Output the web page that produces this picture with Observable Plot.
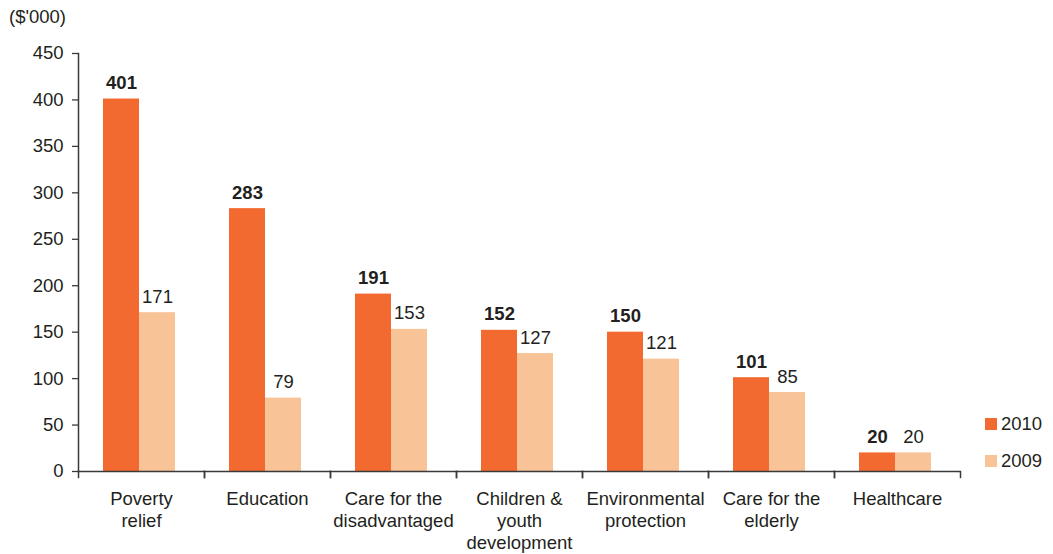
<!DOCTYPE html>
<html>
<head>
<meta charset="utf-8">
<script src="https://cdn.jsdelivr.net/npm/d3@7"></script>
<script src="https://cdn.jsdelivr.net/npm/@observablehq/plot@0.6"></script>
<style>
  html, body { margin: 0; padding: 0; background: #fff; }
  #wrap { position: relative; width: 1053px; height: 554px; font-family: "Liberation Sans", Arial, sans-serif; color: #231F20; }
  #unit { position: absolute; left: 9px; top: 8px; font-size: 18.5px; line-height: 1; }
  #legend { position: absolute; left: 985px; top: 414px; font-size: 18.5px; }
  .item { display: flex; align-items: center; height: 19px; margin-bottom: 18.5px; }
  .swatch { width: 12px; height: 12px; margin-right: 4px; }
</style>
</head>
<body>
<div id="wrap">
  <div id="unit">($'000)</div>
  <div id="legend"></div>
</div>
<script>
// Donations by cause, 2010 vs 2009 ($'000)
const categories = [
  "Poverty relief",
  "Education",
  "Care for the disadvantaged",
  "Children & youth development",
  "Environmental protection",
  "Care for the elderly",
  "Healthcare"
];
const categoryLabels = [
  "Poverty\nrelief",
  "Education",
  "Care for the\ndisadvantaged",
  "Children &\nyouth\ndevelopment",
  "Environmental\nprotection",
  "Care for the\nelderly",
  "Healthcare"
];
const years = ["2010", "2009"];
const values2010 = [401, 283, 191, 152, 150, 101, 20];
const values2009 = [171, 79, 153, 127, 121, 85, 20];
const yTicks = [0, 50, 100, 150, 200, 250, 300, 350, 400, 450];
const colors = ["#F26A30", "#F9C398"];

const rows = categories.flatMap((category, i) => [
  {category, year: "2010", value: values2010[i]},
  {category, year: "2009", value: values2009[i]}
]);

const W = 1053, H = 554;
const mTop = 53, mBottom = 83, mLeft = 77, mRight = 92;
const plotH = H - mTop - mBottom;
const ink = "#231F20", axisInk = "#3a3a3a";

const chart = Plot.plot({
  width: W,
  height: H,
  marginTop: mTop,
  marginBottom: mBottom,
  marginLeft: mLeft,
  marginRight: mRight,
  style: {fontFamily: "'Liberation Sans', Arial, sans-serif", fontSize: "18.5px", color: ink, background: "transparent"},
  fx: {domain: categories, padding: 0, label: null},
  x: {domain: years, paddingInner: 0, paddingOuter: 0.72, align: 0.46, axis: null},
  y: {domain: [0, 450], axis: null},
  color: {domain: years, range: colors},
  marks: [
    Plot.axisY({ticks: yTicks, tickSize: 6, tickPadding: 9, label: null, stroke: axisInk, strokeWidth: 1.3, fill: ink}),
    Plot.axisFx({
      anchor: "bottom", tickSize: 0, tickPadding: 18, label: null, lineHeight: 1.19, fill: ink,
      tickFormat: d => categoryLabels[categories.indexOf(d)]
    }),
    Plot.barY(rows, {fx: "category", x: "year", y: "value", fill: "year"}),
    Plot.text(rows.filter(d => d.year === "2010"), {
      fx: "category", x: "year", y: "value", text: d => String(d.value),
      lineAnchor: "bottom", dy: -10, fontWeight: "bold", fill: ink
    }),
    Plot.text(rows.filter(d => d.year === "2009"), {
      fx: "category", x: "year", y: "value", text: d => String(d.value),
      lineAnchor: "bottom", dy: -10, fill: ink
    }),
    // baseline and axis lines
    Plot.ruleY([0], {stroke: axisInk, strokeWidth: 1.5}),
    Plot.frame({anchor: "left", facet: "super", stroke: axisInk, strokeWidth: 1.5}),
    // category boundary ticks below the baseline
    Plot.frame({anchor: "left", insetTop: plotH, insetBottom: -6, stroke: axisInk, strokeWidth: 1.5}),
    Plot.frame({anchor: "right", insetTop: plotH, insetBottom: -6, stroke: axisInk, strokeWidth: 1.5})
  ]
});

const wrap = document.getElementById("wrap");
chart.style.position = "absolute";
chart.style.left = "0";
chart.style.top = "0";
wrap.insertBefore(chart, wrap.firstChild);

const legend = d3.select("#legend");
years.forEach((y, i) => {
  const item = legend.append("div").attr("class", "item");
  item.append("div").attr("class", "swatch").style("background", colors[i]);
  item.append("span").text(y);
});
</script>
</body>
</html>
